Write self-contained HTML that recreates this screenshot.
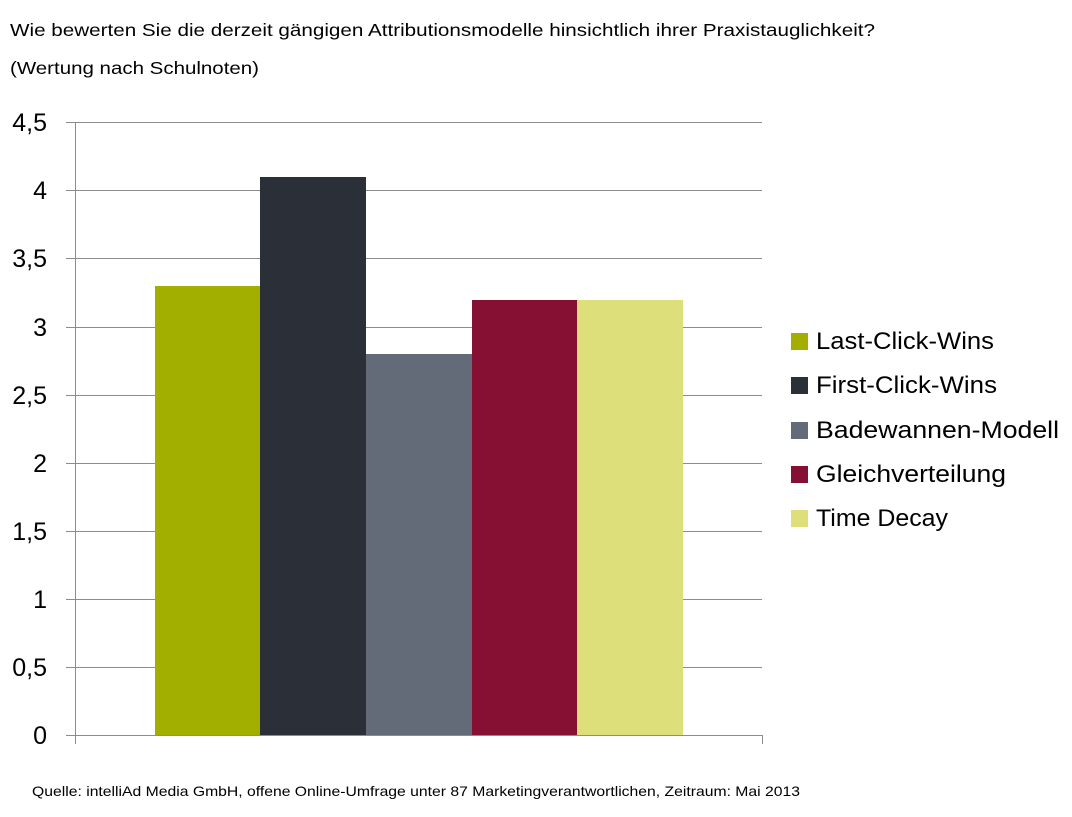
<!DOCTYPE html>
<html><head><meta charset="utf-8"><style>
body{margin:0;background:#fff;width:1072px;height:812px;overflow:hidden;font-family:"Liberation Sans",sans-serif}
</style></head><body>
<svg width="1072" height="812" xmlns="http://www.w3.org/2000/svg" font-family="Liberation Sans, sans-serif">
<text x="10" y="36" font-size="17.5" fill="#000" textLength="865" lengthAdjust="spacingAndGlyphs">Wie bewerten Sie die derzeit gängigen Attributionsmodelle hinsichtlich ihrer Praxistauglichkeit?</text>
<text x="10" y="74" font-size="17.5" fill="#000" textLength="249" lengthAdjust="spacingAndGlyphs">(Wertung nach Schulnoten)</text>
<g stroke="#8c8c8c" stroke-width="1">
<line x1="66" y1="122.5" x2="762" y2="122.5"/>
<line x1="66" y1="190.5" x2="762" y2="190.5"/>
<line x1="66" y1="258.5" x2="762" y2="258.5"/>
<line x1="66" y1="327.5" x2="762" y2="327.5"/>
<line x1="66" y1="395.5" x2="762" y2="395.5"/>
<line x1="66" y1="463.5" x2="762" y2="463.5"/>
<line x1="66" y1="531.5" x2="762" y2="531.5"/>
<line x1="66" y1="599.5" x2="762" y2="599.5"/>
<line x1="66" y1="667.5" x2="762" y2="667.5"/>
<line x1="66" y1="735.5" x2="762" y2="735.5"/>
<line x1="75.5" y1="122" x2="75.5" y2="744"/>
<line x1="762.5" y1="735" x2="762.5" y2="744"/>
</g>
<rect x="155" y="286" width="105" height="449" fill="#a3af00"/>
<rect x="260" y="177" width="106" height="558" fill="#2a2f38"/>
<rect x="366" y="354" width="106" height="381" fill="#636b78"/>
<rect x="472" y="300" width="105" height="435" fill="#851034"/>
<rect x="577" y="300" width="106" height="435" fill="#dde07a"/>
<g font-size="25" fill="#000" text-anchor="end">
<text x="47" y="131">4,5</text>
<text x="47" y="199">4</text>
<text x="47" y="267">3,5</text>
<text x="47" y="336">3</text>
<text x="47" y="404">2,5</text>
<text x="47" y="472">2</text>
<text x="47" y="540">1,5</text>
<text x="47" y="608">1</text>
<text x="47" y="676">0,5</text>
<text x="47" y="744">0</text>
</g>
<g font-size="24" fill="#000">
<rect x="791" y="333" width="17" height="17" fill="#a3af00"/><text x="816" y="349" textLength="178" lengthAdjust="spacingAndGlyphs">Last-Click-Wins</text>
<rect x="791" y="377" width="17" height="17" fill="#2a2f38"/><text x="816" y="393" textLength="181" lengthAdjust="spacingAndGlyphs">First-Click-Wins</text>
<rect x="791" y="422" width="17" height="17" fill="#636b78"/><text x="816" y="438" textLength="243" lengthAdjust="spacingAndGlyphs">Badewannen-Modell</text>
<rect x="791" y="466" width="17" height="17" fill="#851034"/><text x="816" y="482" textLength="190" lengthAdjust="spacingAndGlyphs">Gleichverteilung</text>
<rect x="791" y="510" width="17" height="17" fill="#dde07a"/><text x="816" y="526" textLength="132" lengthAdjust="spacingAndGlyphs">Time Decay</text>
</g>
<text x="32" y="796" font-size="14" fill="#000" textLength="768" lengthAdjust="spacingAndGlyphs">Quelle: intelliAd Media GmbH, offene Online-Umfrage unter 87 Marketingverantwortlichen, Zeitraum: Mai 2013</text>
</svg>
</body></html>
